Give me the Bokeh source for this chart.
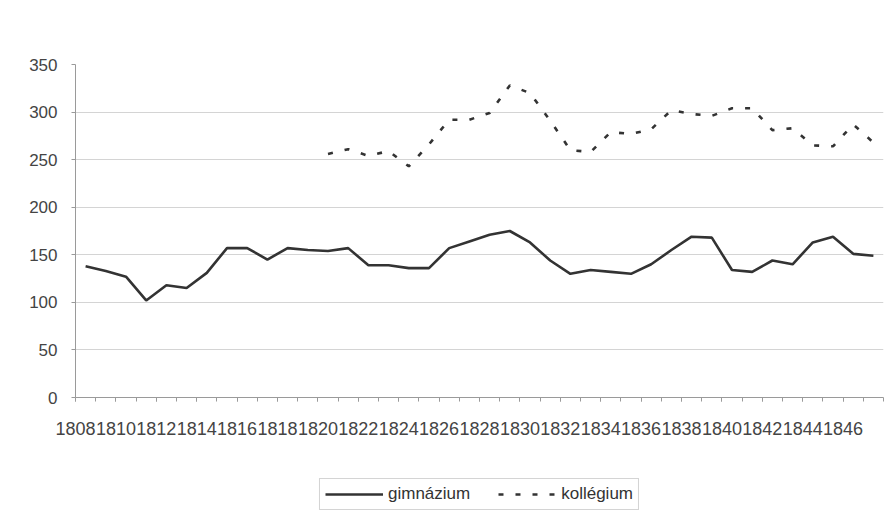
from bokeh.plotting import figure
from bokeh.layouts import column
from bokeh.models import (FixedTicker, Legend, LegendItem, Range1d,
                          CustomJSTickFormatter)
from bokeh.embed import file_html
from bokeh.resources import INLINE

# ---- data ----
years = list(range(1808, 1848))
gimnazium = [138, 133, 127, 102, 118, 115, 131, 157, 157, 145,
             157, 155, 154, 157, 139, 139, 136, 136, 157, 164,
             171, 175, 163, 144, 130, 134, 132, 130, 140, 155,
             169, 168, 134, 132, 144, 140, 163, 169, 151, 149]
kolleg_years = list(range(1820, 1848))
kollegium = [256, 261, 254, 259, 243, 266, 292, 292, 299, 328,
             320, 291, 260, 258, 279, 277, 282, 302, 298, 296,
             304, 304, 281, 283, 265, 264, 287, 268]
label_years = list(range(1808, 1847, 2))
y_ticks = [0, 50, 100, 150, 200, 250, 300, 350]
series_names = ["gimnázium", "kollégium"]

FONT = "Liberation Sans"
LINE_COLOR = "#333333"
DASH = "5 12"

p = figure(width=885, height=452, output_backend="svg", toolbar_location=None,
           x_range=Range1d(years[0] - 0.5, years[-1] + 0.5),
           y_range=Range1d(0, 350),
           min_border_left=75, min_border_right=2, min_border_top=64,
           min_border_bottom=55)
p.background_fill_color = "white"
p.border_fill_color = "white"
p.outline_line_color = None

# x axis: category boundaries as ticks, labels every 2 years
p.xaxis.ticker = FixedTicker(ticks=[y - 0.5 for y in label_years],
                             minor_ticks=[y - 0.5 for y in years] + [years[-1] + 0.5])
p.xaxis.formatter = CustomJSTickFormatter(code="return (tick + 0.5).toFixed(0);")
p.xaxis.major_tick_out = 4
p.xaxis.major_tick_in = 0
p.xaxis.minor_tick_out = 4
p.xaxis.minor_tick_in = 0
p.xaxis.major_label_standoff = 20
p.xaxis.major_label_text_font_size = "18px"

p.yaxis.ticker = FixedTicker(ticks=y_ticks)
p.yaxis.major_tick_out = 4
p.yaxis.major_tick_in = 0
p.yaxis.major_label_standoff = 14
p.yaxis.major_label_text_font_size = "17px"

for ax in (p.xaxis, p.yaxis):
    ax.axis_line_color = "#9a9a9a"
    ax.major_tick_line_color = "#9a9a9a"
    ax.minor_tick_line_color = "#9a9a9a"
    ax.major_label_text_font = FONT
    ax.major_label_text_color = "#444444"
p.yaxis.minor_tick_line_color = None

p.xgrid.visible = False
p.ygrid.grid_line_color = "#d4d4d4"
p.ygrid.grid_line_width = 1

p.line(years, gimnazium, line_width=2.6, line_color=LINE_COLOR)
p.line(kolleg_years, kollegium, line_width=2.6, line_color=LINE_COLOR,
       line_dash=DASH)

# ---- legend strip under the chart (series drawn out of view, legend only) ----
q = figure(width=885, height=63, output_backend="svg", toolbar_location=None,
           x_axis_type=None, y_axis_type=None,
           x_range=Range1d(years[0] - 0.5, years[-1] + 0.5),
           y_range=Range1d(-20, -10),
           min_border_left=75, min_border_right=2, min_border_top=0,
           min_border_bottom=0)
q.outline_line_color = None
q.grid.visible = False
q.background_fill_color = "white"
q.border_fill_color = "white"
l1 = q.line(years, gimnazium, line_width=2.6, line_color=LINE_COLOR)
l2 = q.line(kolleg_years, kollegium, line_width=2.6, line_color=LINE_COLOR,
            line_dash=DASH)

legend = Legend(items=[LegendItem(label=series_names[0], renderers=[l1]),
                       LegendItem(label=series_names[1], renderers=[l2])],
                orientation="horizontal", location="bottom_center")
legend.label_text_font = FONT
legend.label_text_font_size = "17px"
legend.label_text_color = "#333333"
legend.glyph_width = 58
legend.glyph_height = 14
legend.label_standoff = 5
legend.spacing = 28
legend.padding = 5
legend.margin = 5
legend.border_line_color = "#aaaaaa"
legend.border_line_width = 1
legend.background_fill_color = "white"
q.add_layout(legend)

layout = column(p, q, spacing=0)
open("out.html", "w").write(file_html(layout, INLINE))
